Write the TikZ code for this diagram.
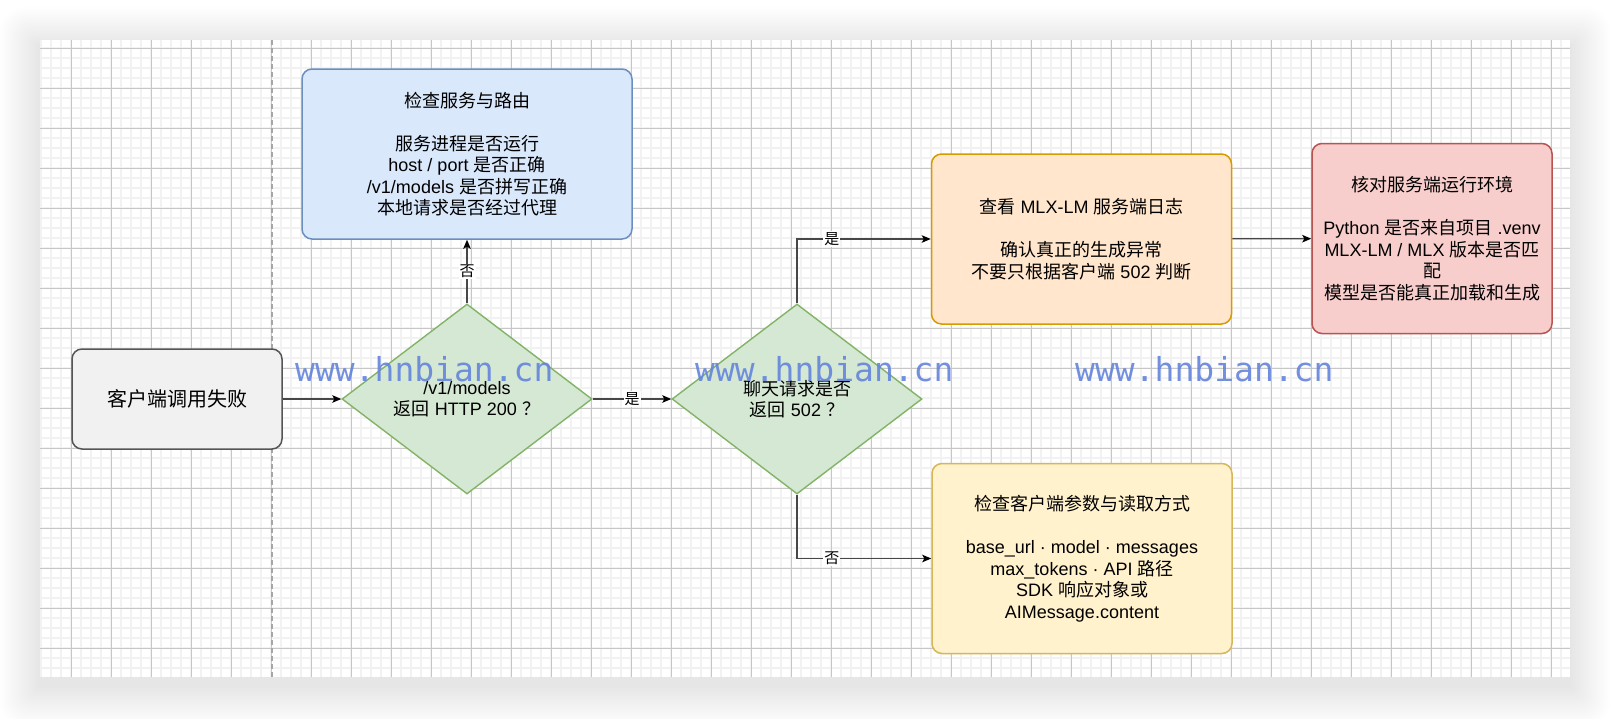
\documentclass[tikz,border=0pt]{standalone}
\usepackage{fontspec}
\setmainfont{Liberation Sans}
\newfontfamily\cjkfont{Noto Sans CJK SC}
\newfontfamily\markfont{DejaVu Sans Mono}
\usetikzlibrary{shapes.geometric, arrows.meta}

% switch to the CJK face for Han characters, back to the main face otherwise
\XeTeXinterchartokenstate=1
\newXeTeXintercharclass\hanclass
\newcount\hancode
\hancode="4E00
\loop
  \XeTeXcharclass\hancode=\hanclass
  \advance\hancode by 1
\ifnum\hancode<"A000 \repeat
\XeTeXcharclass"FF1F=\hanclass
\XeTeXinterchartoks 0 \hanclass={\cjkfont}
\XeTeXinterchartoks 4095 \hanclass={\cjkfont}
\XeTeXinterchartoks \hanclass 0={\rmfamily}
\XeTeXinterchartoks \hanclass 4095={\rmfamily}

\definecolor{grayfill}{HTML}{F1F1F1}
\definecolor{graydraw}{HTML}{555555}
\definecolor{bluefill}{HTML}{DAE8FC}
\definecolor{bluedraw}{HTML}{6C8EBF}
\definecolor{greenfill}{HTML}{D5E8D4}
\definecolor{greendraw}{HTML}{82B366}
\definecolor{orangefill}{HTML}{FFE6CC}
\definecolor{orangedraw}{HTML}{D79B00}
\definecolor{yellowfill}{HTML}{FFF2CC}
\definecolor{yellowdraw}{HTML}{D6B656}
\definecolor{redfill}{HTML}{F8CECC}
\definecolor{reddraw}{HTML}{B85450}
\definecolor{markblue}{HTML}{6384DC}

\begin{document}
\begin{tikzpicture}[x=1pt, y=-1pt,
  box/.style={draw, rounded corners=10pt, line width=1.5pt, align=center, inner sep=0pt, font=\fontsize{18}{21.5}\selectfont},
  ask/.style={diamond, aspect=1.32, draw=greendraw, fill=greenfill, line width=1.4pt, align=center, inner sep=0pt, minimum width=250pt, minimum height=190pt, font=\fontsize{18}{21.5}\selectfont},
  flow/.style={draw=black!72, line width=1.3pt, -{Stealth[length=9pt, width=7.5pt, inset=2pt, black]}},
  tag/.style={fill=white, inner sep=1pt, font=\fontsize{15}{15}\selectfont},
  minorline/.style={black!5, line width=1.4pt},
  majorline/.style={black!22, line width=1pt}]
\useasboundingbox (0,0) rectangle (1610,718);
\fill[white] (0,0) rectangle (1610,718);
\foreach \s in {1,...,25}
  \fill[black, opacity=0.0038, rounded corners=\s pt] (40-1.6*\s, 47-1.6*\s) rectangle (1570+1.6*\s, 686+1.6*\s);
\fill[white] (40,40) rectangle (1570,677);
\begin{scope}
\clip (40,40) rectangle (1570,677);
\foreach \gx in {41,51,...,1561} \draw[minorline] (\gx,40) -- (\gx,677);
\foreach \gy in {48,58,...,668} \draw[minorline] (40,\gy) -- (1570,\gy);
\foreach \gx in {71,111,...,1551} \draw[majorline] (\gx,40) -- (\gx,677);
\foreach \gy in {48,88,...,648} \draw[majorline] (40,\gy) -- (1570,\gy);
\end{scope}
\draw[black!35, line width=1.2pt, dash pattern=on 5pt off 3pt] (272,40) -- (272,677);

\node[box, fill=grayfill, draw=graydraw, minimum width=210pt, minimum height=100pt, font=\fontsize{20}{24}\selectfont] (client) at (177,399) {客户端调用失败};
\node[ask] (q1) at (467,399) {/v1/models\\返回 HTTP 200 ？};
\node[ask] (q2) at (797,399) {聊天请求是否\\返回 502 ？};
\node[box, fill=bluefill, draw=bluedraw, minimum width=330pt, minimum height=170pt] (chk) at (467,154) {检查服务与路由\\[21.5pt]服务进程是否运行\\host / port 是否正确\\/v1/models 是否拼写正确\\本地请求是否经过代理};
\node[box, fill=orangefill, draw=orangedraw, minimum width=300pt, minimum height=170pt] (logs) at (1081.5,239) {查看 MLX-LM 服务端日志\\[21.5pt]确认真正的生成异常\\不要只根据客户端 502 判断};
\node[box, fill=yellowfill, draw=yellowdraw, minimum width=300pt, minimum height=190pt] (args) at (1082,558.5) {检查客户端参数与读取方式\\[21.5pt]base\_url · model · messages\\max\_tokens · API 路径\\SDK 响应对象或\\AIMessage.content};
\node[box, fill=redfill, draw=reddraw, minimum width=240pt, minimum height=190pt] (env) at (1432,238.5) {核对服务端运行环境\\[21.5pt]Python 是否来自项目 .venv\\MLX-LM / MLX 版本是否匹\\配\\模型是否能真正加载和生成};

\draw[flow] (client) -- (q1);
\draw[flow] (q1) -- node[tag]{否} (chk);
\draw[flow] (q1) -- node[tag]{是} (q2);
\draw[flow] (q2) |- node[tag, pos=0.63]{是} (logs);
\draw[flow] (q2) |- node[tag, pos=0.63]{否} (args);
\draw[flow] (logs) -- (env);

\foreach \mx/\mname in {295/mark1, 695/mark2, 1075/mark3}
  \node[anchor=base west, inner sep=0pt, text=markblue, opacity=0.9, font=\markfont\fontsize{33}{33}\selectfont] (\mname) at (\mx,381) {www.hnbian.cn};
\end{tikzpicture}
\end{document}
